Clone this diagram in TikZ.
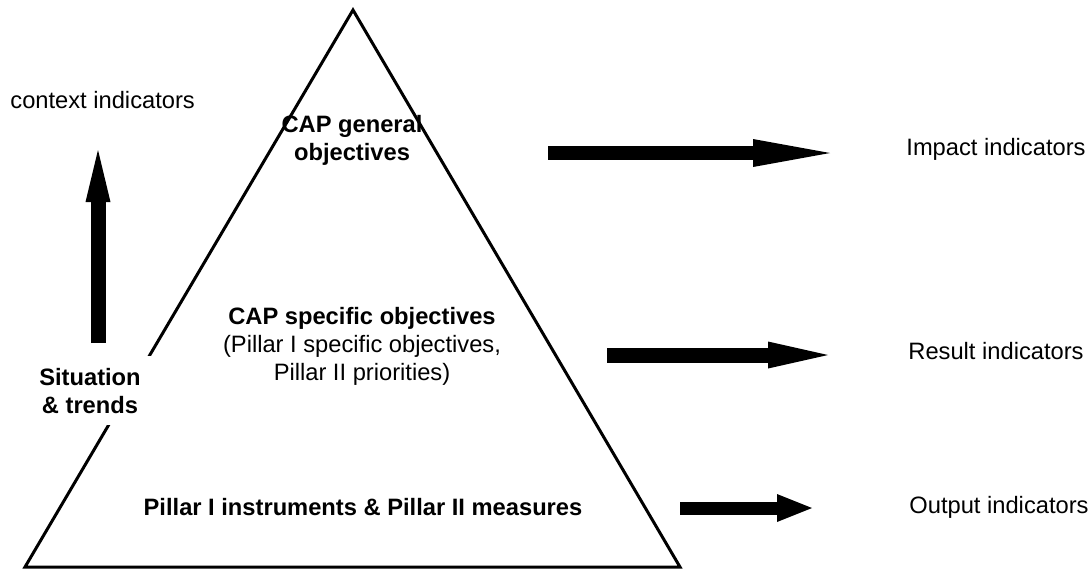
\documentclass[tikz,border=0pt]{standalone}
\usepackage{fontspec}
\setmainfont{Liberation Sans}
\usetikzlibrary{arrows.meta}

\begin{document}
\begin{tikzpicture}[x=0.5pt,y=-0.5pt,
        lbl/.style={font=\fontsize{11.85}{14}\selectfont,inner sep=0pt},
        bold/.style={lbl,font=\fontsize{11.85}{14}\selectfont\bfseries,align=center},
        pyramid/.style={line width=1.5pt,line join=miter},
        fatarrow/.style n args={3}{line width=#1,-{Triangle[width=#2,length=#3,line width=0pt]}}]
        \useasboundingbox (0,0) rectangle (1091,569);
        \coordinate (top) at (353,10);
        \coordinate (left) at (25,567);
        \coordinate (right) at (680,567);
        \draw[pyramid] (top) -- (left) -- (right) -- cycle;

        \node[lbl,anchor=base west] (context) at (10,108) {context indicators};
        \node[lbl,anchor=base west] (impact) at (906,155) {Impact indicators};
        \node[lbl,anchor=base west] (result) at (908,359) {Result indicators};
        \node[lbl,anchor=base west] (output) at (909,513) {Output indicators};
        \node[bold,anchor=base] (general) at (352,160) {CAP general\\objectives};
        \node[lbl,align=center,anchor=base] (specific) at (362,380) {\textbf{CAP specific objectives}\\(Pillar I specific objectives,\\Pillar II priorities)};
        \node[bold,anchor=base,fill=white,inner sep=6pt] (situation) at (90,413) {Situation\\\& trends};
        \node[bold,anchor=base] (measures) at (363,515) {Pillar I instruments \& Pillar II measures};

        \coordinate (ctxfrom) at (98,343);
        \coordinate (ctxto) at (98,150);
        \coordinate (impactfrom) at (548,153);
        \coordinate (impactto) at (830,153);
        \coordinate (resultfrom) at (607,355);
        \coordinate (resultto) at (828,355);
        \coordinate (outputfrom) at (680,508);
        \coordinate (outputto) at (812,508);

        \draw[fatarrow={7.5pt}{12.5pt}{26pt}] (ctxfrom) -- (ctxto);
        \draw[fatarrow={7pt}{14pt}{38.5pt}] (impactfrom) -- (impactto);
        \draw[fatarrow={7.5pt}{13.5pt}{30pt}] (resultfrom) -- (resultto);
        \draw[fatarrow={6.5pt}{14pt}{17.5pt}] (outputfrom) -- (outputto);
\end{tikzpicture}
\end{document}
